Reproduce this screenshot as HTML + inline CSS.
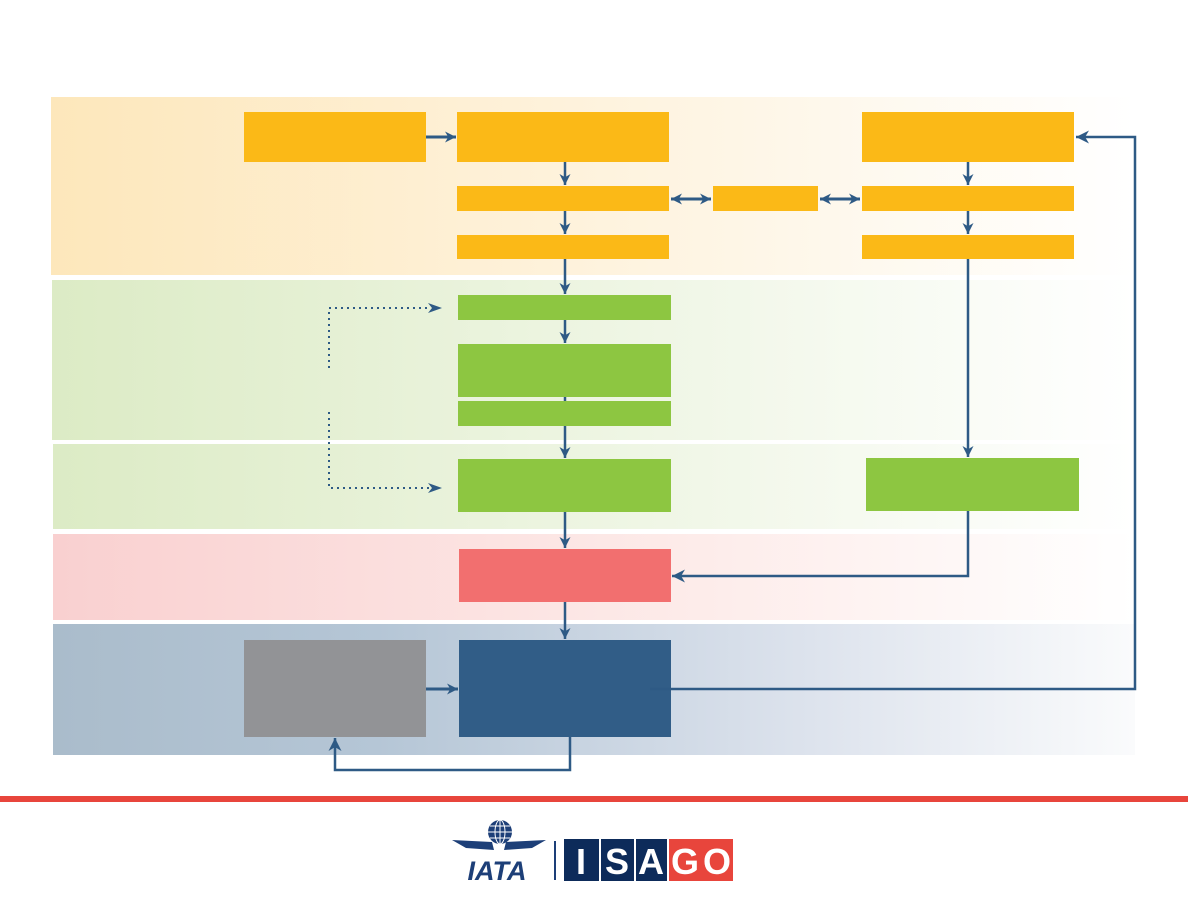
<!DOCTYPE html>
<html><head><meta charset="utf-8"><style>
html,body{margin:0;padding:0;background:#fff;width:1188px;height:918px;overflow:hidden}
svg{display:block}
</style></head><body>
<svg width="1188" height="918" viewBox="0 0 1188 918" xmlns="http://www.w3.org/2000/svg">
<defs>
<linearGradient id="gO" x1="0" x2="1"><stop offset="0" stop-color="#fde7bb"/><stop offset="0.6" stop-color="#fef5e4"/><stop offset="1" stop-color="#fff"/></linearGradient>
<linearGradient id="gG" x1="0" x2="1"><stop offset="0" stop-color="#dcebc5"/><stop offset="0.6" stop-color="#f1f7e8"/><stop offset="1" stop-color="#fff"/></linearGradient>
<linearGradient id="gR" x1="0" x2="1"><stop offset="0" stop-color="#f9d0d0"/><stop offset="0.6" stop-color="#fdecea"/><stop offset="1" stop-color="#fff"/></linearGradient>
<linearGradient id="gB" x1="0" x2="1"><stop offset="0" stop-color="#aabccb"/><stop offset="0.3" stop-color="#b5c6d6"/><stop offset="0.7" stop-color="#dde3ed"/><stop offset="1" stop-color="#fafbfc"/></linearGradient>
<marker id="ar" viewBox="0 0 10 10" refX="10" refY="5" markerWidth="13" markerHeight="11" markerUnits="userSpaceOnUse" orient="auto-start-reverse"><path d="M0,0 L10,5 L0,10 L3,5 Z" fill="#2e5a85"/></marker>
<marker id="ar2" viewBox="0 0 10 10" refX="10" refY="5" markerWidth="15" markerHeight="13" markerUnits="userSpaceOnUse" orient="auto-start-reverse"><path d="M0,0 L10,5 L0,10 L3,5 Z" fill="#2e5a85"/></marker>
</defs>
<rect x="51" y="97" width="1084" height="178" fill="url(#gO)"/>
<rect x="52" y="280" width="1083" height="160" fill="url(#gG)"/>
<rect x="53" y="444" width="1082" height="85" fill="url(#gG)"/>
<rect x="53" y="534" width="1082" height="86" fill="url(#gR)"/>
<rect x="53" y="624" width="1082" height="131" fill="url(#gB)"/>

<g fill="#fbb917">
<rect x="244" y="112" width="182" height="50"/>
<rect x="457" y="112" width="212" height="50"/>
<rect x="862" y="112" width="212" height="50"/>
<rect x="457" y="186" width="212" height="25"/>
<rect x="713" y="186" width="105" height="25"/>
<rect x="862" y="186" width="212" height="25"/>
<rect x="457" y="235" width="212" height="24"/>
<rect x="862" y="235" width="212" height="24"/>
</g>
<g fill="#8dc641">
<rect x="458" y="295" width="213" height="25"/>
<rect x="458" y="344" width="213" height="53"/>
<rect x="458" y="401" width="213" height="25"/>
<rect x="458" y="459" width="213" height="53"/>
<rect x="866" y="458" width="213" height="53"/>
</g>
<rect x="459" y="549" width="212" height="53" fill="#f26f6f"/>
<rect x="244" y="640" width="182" height="97" fill="#929396"/>
<rect x="459" y="640" width="212" height="97" fill="#315d87"/>

<g stroke="#2e5a85" stroke-width="2.5" fill="none">
<path d="M565,162V185" marker-end="url(#ar)"/>
<path d="M565,211V234" marker-end="url(#ar)"/>
<path d="M565,259V294" marker-end="url(#ar)"/>
<path d="M565,320V343" marker-end="url(#ar)"/>
<path d="M565,397V401"/>
<path d="M565,426V458" marker-end="url(#ar)"/>
<path d="M565,512V548" marker-end="url(#ar)"/>
<path d="M565,602V639" marker-end="url(#ar)"/>
<path d="M968,162V185" marker-end="url(#ar)"/>
<path d="M968,211V234" marker-end="url(#ar)"/>
<path d="M968,259V457" marker-end="url(#ar)"/>
<path d="M968,511V576H672" marker-end="url(#ar2)"/>
<path d="M650,689H1135V137H1076" marker-end="url(#ar2)"/>
<path d="M570,737V770H335V738" marker-end="url(#ar2)"/>
<path d="M426,689H458" stroke-width="3" marker-end="url(#ar)"/>
<path d="M426,137H456" stroke-width="3" marker-end="url(#ar)"/>
<path d="M671,199H711" stroke-width="3" marker-start="url(#ar)" marker-end="url(#ar)"/>
<path d="M820,199H860" stroke-width="3" marker-start="url(#ar)" marker-end="url(#ar)"/>
</g>
<g stroke="#2e5a85" stroke-width="2" fill="none" stroke-dasharray="2,4">
<path d="M329,368V308H430"/>
<path d="M329,412V488H430"/>
</g>
<path d="M428,303L442,308L428,313L432,308Z" fill="#2e5a85"/>
<path d="M428,483L442,488L428,493L432,488Z" fill="#2e5a85"/>

<rect x="0" y="796" width="1188" height="6" fill="#e8453c"/>

<g>
<circle cx="500" cy="832" r="12" fill="#1d3f78"/>
<g stroke="#fff" stroke-width="1" fill="none"><ellipse cx="500" cy="832" rx="5" ry="12"/><path d="M488,832H512M490,826H510M490,838H510M500,820V844"/></g>
<path d="M452,840L492,842L494,850L466,848Z" fill="#1d3f78"/>
<path d="M546,840L506,842L504,850L532,848Z" fill="#1d3f78"/>
<text x="497" y="880" text-anchor="middle" font-family="Liberation Sans, sans-serif" font-weight="bold" font-style="italic" font-size="27" fill="#1d3f78">IATA</text>
<rect x="554" y="841" width="2" height="39" fill="#1d3f78"/>
</g>
<g font-family="Liberation Sans, sans-serif" font-weight="bold" font-size="36" fill="#fff" text-anchor="middle">
<rect x="564" y="839" width="35" height="42" fill="#0d2b5a"/>
<rect x="601" y="839" width="33" height="42" fill="#0d2b5a"/>
<rect x="636" y="839" width="31" height="42" fill="#0d2b5a"/>
<rect x="669" y="839" width="64" height="42" fill="#e8453c"/>
<text x="581" y="874">I</text>
<text x="617" y="874">S</text>
<text x="651" y="874">A</text>
<text x="685" y="874">G</text>
<text x="717" y="874">O</text>
</g>
</svg>
</body></html>
